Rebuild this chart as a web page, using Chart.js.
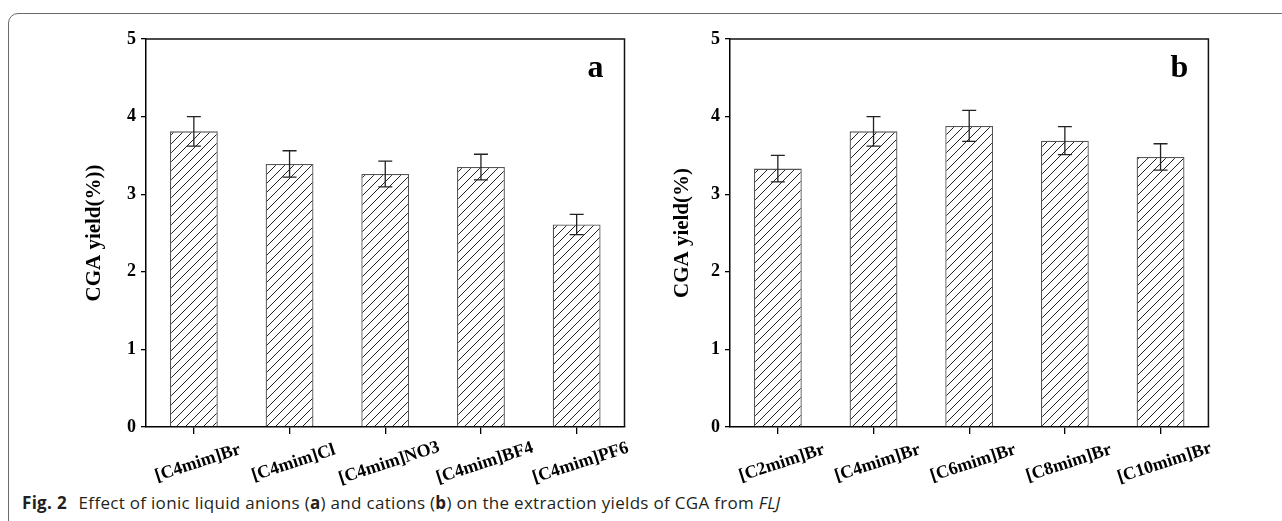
<!DOCTYPE html>
<html>
<head>
<meta charset="utf-8">
<script src="https://cdn.jsdelivr.net/npm/chart.js@4.4.1/dist/chart.umd.min.js"></script>
<style>
  html, body { margin: 0; padding: 0; background: #fff; }
  body { width: 1282px; height: 521px; overflow: hidden; position: relative; }
  .frame {
    position: absolute; left: 8px; top: 13px; width: 1400px; height: 600px;
    border: 1px solid #6a6a6a; border-radius: 10px; box-sizing: border-box;
  }
  canvas { position: absolute; top: 0; }
  #chartA { left: 0; }
  #chartB { left: 640px; }
  .caption {
    position: absolute; left: 22px; top: 491px;
    font-family: "Open Sans", sans-serif; font-size: 17px; color: #231f20;
    white-space: nowrap; letter-spacing: 0.3px;
  }
  .caption b { font-weight: 700; }
</style>
</head>
<body>
<div class="frame"></div>
<canvas id="chartA" width="640" height="490"></canvas>
<canvas id="chartB" width="642" height="490"></canvas>
<div class="caption"><b style="margin-right:7px">Fig. 2</b> Effect of ionic liquid anions (<b>a</b>) and cations (<b>b</b>) on the extraction yields of CGA from <i>FLJ</i></div>

<script>
// Datos
const anionLabels = ["[C4mim]Br", "[C4mim]Cl", "[C4mim]NO3", "[C4mim]BF4", "[C4mim]PF6"];
const anionYield = [3.81, 3.39, 3.26, 3.35, 2.61];
const anionErr = [0.19, 0.17, 0.165, 0.165, 0.13];

const cationLabels = ["[C2mim]Br", "[C4mim]Br", "[C6mim]Br", "[C8mim]Br", "[C10mim]Br"];
const cationYield = [3.33, 3.81, 3.88, 3.69, 3.48];
const cationErr = [0.17, 0.19, 0.2, 0.18, 0.17];

const yTickValues = [0, 1, 2, 3, 4, 5];

const serif = '"Liberation Serif", "Times New Roman", serif';

// Patrón rayado para las barras
function hatchPattern() {
  const s = 9;
  const c = document.createElement("canvas");
  c.width = s;
  c.height = s;
  const g = c.getContext("2d");
  g.fillStyle = "#fff";
  g.fillRect(0, 0, s, s);
  g.strokeStyle = "#222";
  g.lineWidth = 1;
  g.beginPath();
  g.moveTo(0, s);
  g.lineTo(s, 0);
  g.moveTo(-1, 1);
  g.lineTo(1, -1);
  g.moveTo(s - 1, s + 1);
  g.lineTo(s + 1, s - 1);
  g.stroke();
  return g.createPattern(c, "repeat");
}

// Caja, barras de error, etiquetas giradas y letra del panel
const extrasPlugin = {
  id: "extras",
  afterDatasetsDraw(chart, args, opts) {
    const ctx = chart.ctx;
    const area = chart.chartArea;
    const x = chart.scales.x;
    const y = chart.scales.y;
    const meta = chart.getDatasetMeta(0);

    ctx.save();
    // borde superior y derecho
    ctx.strokeStyle = "#111";
    ctx.lineWidth = 1.5;
    ctx.beginPath();
    ctx.moveTo(area.left, area.top);
    ctx.lineTo(area.right, area.top);
    ctx.lineTo(area.right, area.bottom);
    ctx.stroke();

    // barras de error
    ctx.strokeStyle = "#222";
    ctx.lineWidth = 1.3;
    opts.values.forEach((v, i) => {
      const bx = meta.data[i].x;
      const top = y.getPixelForValue(v + opts.errors[i]);
      const bot = y.getPixelForValue(v - opts.errors[i]);
      ctx.beginPath();
      ctx.moveTo(bx, top);
      ctx.lineTo(bx, bot);
      ctx.moveTo(bx - 7, top);
      ctx.lineTo(bx + 7, top);
      ctx.moveTo(bx - 7, bot);
      ctx.lineTo(bx + 7, bot);
      ctx.stroke();
    });

    // etiquetas del eje x
    ctx.fillStyle = "#000";
    ctx.font = "bold 18px " + serif;
    ctx.textAlign = "center";
    ctx.textBaseline = "middle";
    opts.labels.forEach((t, i) => {
      ctx.save();
      ctx.translate(x.getPixelForTick(i) + 4, area.bottom + 36);
      ctx.rotate(-18 * Math.PI / 180);
      ctx.fillText(t, 0, 0);
      ctx.restore();
    });

    // letra del panel
    ctx.font = "bold 32px " + serif;
    ctx.textAlign = "center";
    ctx.textBaseline = "alphabetic";
    ctx.fillText(opts.letter, area.right - 29, area.top + 38);
    ctx.restore();
  },
};

function crearGrafico(id, labels, values, errors, letter, yTitle, pad, yWidth) {
  return new Chart(document.getElementById(id), {
    type: "bar",
    data: {
      labels,
      datasets: [
        {
          data: values,
          backgroundColor: hatchPattern(),
          borderColor: "#555",
          borderWidth: 1.3,
          barPercentage: 0.5,
          categoryPercentage: 1,
        },
      ],
    },
    options: {
      responsive: false,
      animation: false,
      layout: { padding: pad },
      plugins: {
        legend: { display: false },
        tooltip: { enabled: false },
        extras: { values, errors, labels, letter },
      },
      scales: {
        x: {
          type: "category",
          offset: true,
          grid: { offset: false, drawOnChartArea: false, drawTicks: true, tickLength: 7, color: "#000", lineWidth: 1.3 },
          border: { display: true, color: "#000", width: 1.5 },
          ticks: { display: false },
          afterFit(scale) { scale.height = 63; },
        },
        y: {
          min: 0,
          max: 5,
          afterBuildTicks(scale) { scale.ticks = yTickValues.map((v) => ({ value: v })); },
          grid: { drawOnChartArea: false, drawTicks: true, tickLength: 5, color: "#000", lineWidth: 1.3 },
          border: { display: true, color: "#000", width: 1.5 },
          ticks: { color: "#000", padding: 5, font: { family: serif, size: 18, weight: "bold" } },
          title: { display: true, text: yTitle, color: "#000", padding: { top: 4, bottom: 4 }, font: { family: serif, size: 21, weight: "bold" } },
          afterFit(scale) { scale.width = yWidth; },
        },
      },
    },
    plugins: [extrasPlugin],
  });
}

function initFigura() {
  crearGrafico("chartA", anionLabels, anionYield, anionErr, "a", "CGA yield(%))",
    { top: 39, left: 78, right: 15.5, bottom: 0 }, 68);
  crearGrafico("chartB", cationLabels, cationYield, cationErr, "b", "CGA yield(%)",
    { top: 39, left: 25.5, right: 73.6, bottom: 0 }, 64.5);
}

document.addEventListener("DOMContentLoaded", initFigura);
</script>
</body>
</html>
